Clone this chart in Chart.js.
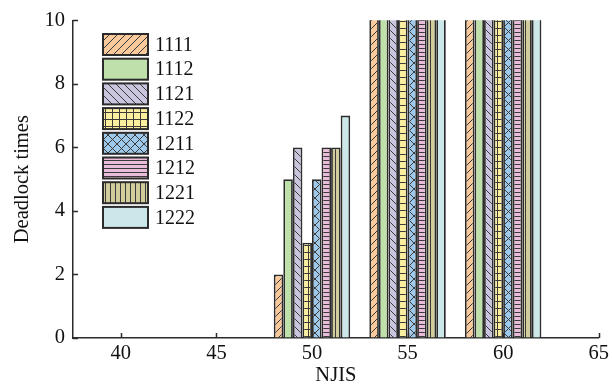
<!DOCTYPE html>
<html>
<head>
<meta charset="utf-8">
<script src="https://cdn.jsdelivr.net/npm/chart.js@4/dist/chart.umd.min.js"></script>
<style>
  html, body { margin: 0; padding: 0; background: #fff; }
  #wrap { width: 612px; height: 388px; }
</style>
</head>
<body>
<div id="wrap"><canvas id="chart" width="612" height="388"></canvas></div>
<script>
// NJIS values on the x axis
const njis = [40, 45, 50, 55, 60];
const seriesNames = ['1111', '1112', '1121', '1122', '1211', '1212', '1221', '1222'];
// deadlock times per series (55 and 60 go past the top of the axis)
const s1111 = [0, 0, 2, 20, 20];
const s1112 = [0, 0, 5, 20, 20];
const s1121 = [0, 0, 6, 20, 20];
const s1122 = [0, 0, 3, 20, 20];
const s1211 = [0, 0, 5, 20, 20];
const s1212 = [0, 0, 6, 20, 20];
const s1221 = [0, 0, 6, 20, 20];
const s1222 = [0, 0, 7, 20, 20];
const seriesValues = [s1111, s1112, s1121, s1122, s1211, s1212, s1221, s1222];
const xTicks = [40, 45, 50, 55, 60, 65];
const yTicks = [0, 2, 4, 6, 8, 10];

const FONT = '"Liberation Serif", "Times New Roman", serif';
const INK = '#2b2b2b';

// build a hatch fill as a canvas pattern
function hatch(bg, kind) {
  const sizes = { slash: 8, back: 8, grid: 7, cross: 9, horiz: 4, vert: 5, none: 4 };
  const n = sizes[kind];
  const c = document.createElement('canvas');
  c.width = n; c.height = n;
  const g = c.getContext('2d');
  g.fillStyle = bg;
  g.fillRect(0, 0, n, n);
  g.strokeStyle = '#3a3a3a';
  g.lineWidth = 1;
  g.beginPath();
  if (kind === 'slash' || kind === 'cross') {
    g.moveTo(-1, n + 1); g.lineTo(n + 1, -1);
    g.moveTo(-1, 1); g.lineTo(1, -1);
    g.moveTo(n - 1, n + 1); g.lineTo(n + 1, n - 1);
  }
  if (kind === 'back' || kind === 'cross') {
    g.moveTo(-1, -1); g.lineTo(n + 1, n + 1);
    g.moveTo(n - 1, -1); g.lineTo(n + 1, 1);
    g.moveTo(-1, n - 1); g.lineTo(1, n + 1);
  }
  if (kind === 'grid' || kind === 'horiz') {
    g.moveTo(0, 0.5); g.lineTo(n, 0.5);
  }
  if (kind === 'grid' || kind === 'vert') {
    g.moveTo(0.5, 0); g.lineTo(0.5, n);
  }
  g.stroke();
  return g.createPattern(c, 'repeat');
}

const fills = [
  hatch('#f8c99b', 'slash'),
  hatch('#bfdfab', 'none'),
  hatch('#cac5df', 'back'),
  hatch('#fbee9f', 'grid'),
  hatch('#9fc9ea', 'cross'),
  hatch('#e9bdd9', 'horiz'),
  hatch('#d0cc9b', 'vert'),
  hatch('#cce7e9', 'none')
];

// inward tick marks and the boxed legend inside the plot
const extras = {
  id: 'extras',
  afterDraw(chart) {
    const ctx = chart.ctx;
    const x = chart.scales.x, y = chart.scales.y;
    const area = chart.chartArea;
    ctx.save();
    ctx.strokeStyle = INK;
    ctx.lineWidth = 1.5;
    ctx.beginPath();
    yTicks.forEach(v => {
      const py = Math.round(y.getPixelForValue(v)) + 0.5;
      ctx.moveTo(area.left, py); ctx.lineTo(area.left + 5, py);
    });
    xTicks.forEach(v => {
      const px = Math.round(x.getPixelForValue(v)) + 0.5;
      ctx.moveTo(px, area.bottom); ctx.lineTo(px, area.bottom - 5);
    });
    ctx.stroke();

    const lx = 103, ly = 34, bw = 45, bh = 21, step = 24.7;
    ctx.font = '20px ' + FONT;
    ctx.textBaseline = 'middle';
    seriesNames.forEach((name, i) => {
      const top = ly + i * step;
      ctx.fillStyle = fills[i];
      ctx.fillRect(lx, top, bw, bh);
      ctx.lineWidth = 2;
      ctx.strokeStyle = INK;
      ctx.strokeRect(lx, top, bw, bh);
      ctx.fillStyle = '#111';
      ctx.fillText(name, lx + bw + 7, top + bh / 2 + 1);
    });
    ctx.restore();
  }
};

new Chart(document.getElementById('chart'), {
  type: 'bar',
  data: {
    datasets: seriesNames.map((name, i) => ({
      label: name,
      data: njis.map((v, j) => ({ x: v, y: seriesValues[i][j] })),
      backgroundColor: fills[i],
      borderColor: INK,
      borderWidth: 1.8,
      borderSkipped: 'start',
      clip: 0
    }))
  },
  options: {
    responsive: false,
    animation: false,
    categoryPercentage: 0.8,
    barPercentage: 1,
    layout: { padding: { top: 18, right: 9, left: 0, bottom: 0 } },
    plugins: {
      legend: { display: false },
      tooltip: { enabled: false }
    },
    scales: {
      x: {
        type: 'linear',
        min: 37.5,
        max: 65,
        offset: false,
        afterBuildTicks: s => { s.ticks = xTicks.map(v => ({ value: v })); },
        afterFit: s => { s.height = 50; },
        grid: { drawOnChartArea: false, drawTicks: false },
        border: { color: INK, width: 1.5 },
        ticks: { font: { family: FONT, size: 20.5 }, color: '#111', padding: 3 },
        title: { display: true, text: 'NJIS', font: { family: FONT, size: 20.5 }, color: '#111', padding: { top: 0, bottom: 0 } }
      },
      y: {
        min: 0,
        max: 10,
        afterBuildTicks: s => { s.ticks = yTicks.map(v => ({ value: v })); },
        afterFit: s => { s.width = 73; },
        grid: { drawOnChartArea: false, drawTicks: false },
        border: { color: INK, width: 1.5 },
        ticks: { font: { family: FONT, size: 20.5 }, color: '#111', padding: 8 },
        title: { display: true, text: 'Deadlock times', font: { family: FONT, size: 20.5 }, color: '#111', padding: { top: 10, bottom: 0 } }
      }
    }
  },
  plugins: [extras]
});
</script>
</body>
</html>
